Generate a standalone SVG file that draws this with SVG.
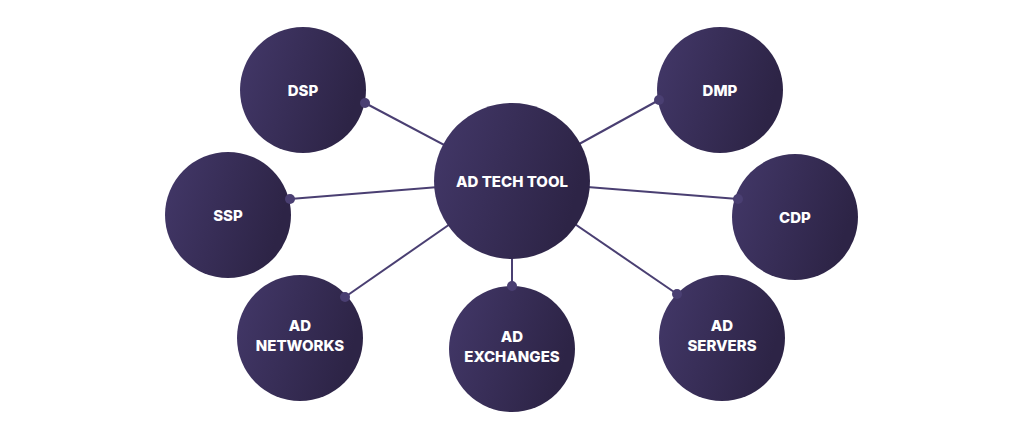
<svg xmlns="http://www.w3.org/2000/svg" width="1024" height="439" viewBox="0 0 1024 439">
<style>
.n{fill:url(#g)}
.t{font-family:"Inter","Liberation Sans",sans-serif;font-weight:800;font-size:15px;fill:#fff;text-anchor:middle}
.c line{stroke:#4a3f72;stroke-width:2}
.d{fill:#4a3f72}
</style>
<defs><linearGradient id="g" x1="0" y1="0" x2="1" y2="0.3"><stop offset="0" stop-color="#433869"/><stop offset="1" stop-color="#2d2446"/></linearGradient></defs>
<rect width="1024" height="439" fill="#fff"/>
<g class="c">
<line x1="512" y1="181" x2="365" y2="103"/><line x1="512" y1="181" x2="290" y2="199"/>
<line x1="512" y1="181" x2="345" y2="297"/><line x1="512" y1="181" x2="512" y2="286"/>
<line x1="512" y1="181" x2="659" y2="100"/><line x1="512" y1="181" x2="738" y2="199"/>
<line x1="512" y1="181" x2="677" y2="294"/>
</g>
<g id="center"><circle class="n" cx="512" cy="181" r="78"/><text class="t" x="512" y="187">AD TECH TOOL</text></g>
<g id="dsp"><circle class="n" cx="303" cy="90" r="63"/><text class="t" x="303" y="96">DSP</text></g>
<g id="ssp"><circle class="n" cx="228" cy="215" r="63"/><text class="t" x="228" y="221">SSP</text></g>
<g id="adnet"><circle class="n" cx="300" cy="338" r="63"/><text class="t" x="300" y="331">AD</text><text class="t" x="300" y="351">NETWORKS</text></g>
<g id="adex"><circle class="n" cx="512" cy="349" r="63"/><text class="t" x="512" y="342">AD</text><text class="t" x="512" y="362">EXCHANGES</text></g>
<g id="dmp"><circle class="n" cx="720" cy="90" r="63"/><text class="t" x="720" y="96">DMP</text></g>
<g id="cdp"><circle class="n" cx="795" cy="217" r="63"/><text class="t" x="795" y="223">CDP</text></g>
<g id="adsrv"><circle class="n" cx="722" cy="338" r="63"/><text class="t" x="722" y="331">AD</text><text class="t" x="722" y="351">SERVERS</text></g>
<g class="dots">
<circle class="d" cx="365" cy="103" r="5"/><circle class="d" cx="290" cy="199" r="5"/><circle class="d" cx="345" cy="297" r="5"/>
<circle class="d" cx="512" cy="286" r="5"/><circle class="d" cx="659" cy="100" r="5"/><circle class="d" cx="738" cy="199" r="5"/><circle class="d" cx="677" cy="294" r="5"/>
</g>
</svg>
